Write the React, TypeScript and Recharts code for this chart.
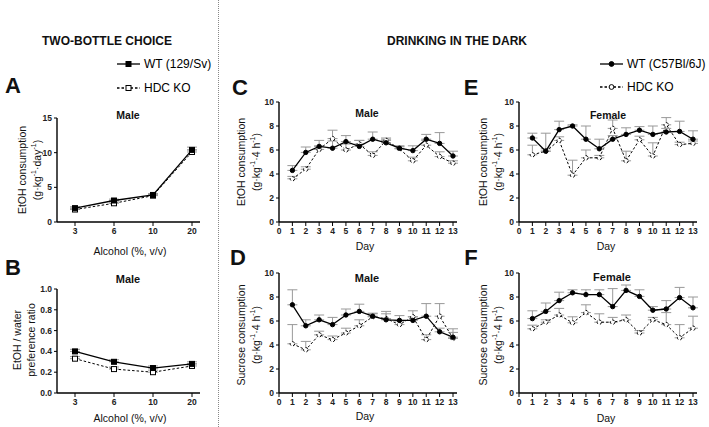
import React from "react";
import { LineChart, Line, XAxis, YAxis, ErrorBar } from "recharts";

// Two-bottle choice (alcohol %)
const alcohol = ["3", "6", "10", "20"];
const aWt = [2.0, 3.1, 3.9, 10.4];
const aKo = [1.8, 2.7, 3.8, 10.1];
const aWtErr = [0.2, 0.2, 0.2, 0.4];
const aKoErr = [0.2, 0.2, 0.2, 0.3];
const bWt = [0.4, 0.3, 0.24, 0.28];
const bKo = [0.33, 0.23, 0.2, 0.26];
const bWtErr = [0.02, 0.02, 0.02, 0.02];
const bKoErr = [0.02, 0.02, 0.02, 0.02];

// Drinking in the dark (days)
const days = [1, 2, 3, 4, 5, 6, 7, 8, 9, 10, 11, 12, 13];
const cWt = [4.3, 5.8, 6.3, 6.15, 6.7, 6.3, 6.9, 6.6, 6.15, 5.95, 6.9, 6.55, 5.5];
const cKo = [3.6, 4.4, 6.05, 6.95, 6.0, 6.5, 5.55, 6.8, 6.1, 5.1, 6.4, 5.45, 4.9];
const cWtErr = [0.4, 0.45, 0.5, 0.6, 0.5, 0.5, 0.6, 0.3, 0.2, 0.4, 0.4, 0.9, 0.4];
const cKoErr = [0.2, 0.2, 0.3, 0.7, 0.5, 0.3, 0.3, 0.2, 0.2, 0.3, 0.4, 0.4, 0.2];
const dWt = [7.35, 5.6, 6.1, 5.7, 6.5, 6.8, 6.4, 6.1, 6.05, 6.05, 6.4, 5.1, 4.65];
const dKo = [4.1, 3.6, 4.85, 4.45, 5.0, 5.6, 6.35, 6.2, 5.7, 6.35, 4.45, 6.4, 4.55];
const dWtErr = [1.25, 0.5, 0.4, 0.6, 0.5, 0.6, 0.2, 0.7, 0.4, 0.3, 1.05, 0.3, 0.7];
const dKoErr = [1.6, 0.7, 0.3, 0.3, 0.4, 0.5, 0.3, 0.4, 0.3, 0.5, 0.4, 1.05, 0.5];
const eWt = [7.0, 5.9, 7.7, 8.0, 6.9, 6.1, 6.9, 7.3, 7.65, 7.3, 7.5, 7.55, 6.9];
const eKo = [5.6, 5.9, 6.8, 3.9, 5.35, 5.35, 7.8, 5.1, 6.85, 5.5, 8.1, 6.45, 6.55];
const eWtErr = [0.4, 1.5, 0.7, 0.1, 1.1, 0.8, 0.3, 0.55, 0.3, 0.7, 0.3, 0.85, 0.7];
const eKoErr = [0.8, 0.2, 0.3, 1.25, 0.65, 0.2, 0.7, 0.8, 0.3, 1.1, 0.6, 0.2, 0.2];
const fWt = [6.2, 6.8, 7.7, 8.35, 8.2, 8.2, 7.2, 8.55, 8.05, 6.9, 7.0, 7.95, 7.1];
const fKo = [5.35, 5.9, 6.5, 5.85, 6.7, 5.9, 5.9, 6.1, 5.0, 6.1, 5.7, 4.6, 5.4];
const fWtErr = [0.65, 0.7, 0.7, 0.25, 0.4, 0.4, 1.5, 0.45, 0.55, 0.3, 0.7, 0.85, 0.9];
const fKoErr = [0.3, 0.2, 0.55, 0.5, 0.65, 0.7, 0.4, 0.4, 0.2, 0.2, 1.0, 1.1, 1.0];

const build = (xs: (string | number)[], wt: number[], ko: number[], we: number[], ke: number[]) =>
  xs.map((x, i) => ({ x, wt: wt[i], ko: ko[i], wtErr: [0, we[i]], koErr: [0, ke[i]] }));

const FONT = "'Liberation Sans', Arial, sans-serif";
const tickStyle = { fontSize: 8.5, fontWeight: 700, fill: "#222", fontFamily: FONT };
const axisLine = { stroke: "#000", strokeWidth: 1.4 };

const Square = (filled: boolean) => (p: any) => (
  <rect
    key={`sq-${p.index}`}
    x={p.cx - 2.5}
    y={p.cy - 2.5}
    width={5}
    height={5}
    fill={filled ? "#000" : "#fff"}
    stroke="#000"
    strokeWidth={1}
  />
);

type PanelProps = {
  data: any[];
  box: [number, number, number, number]; // plot left, top, right, bottom
  category?: boolean;
  yDomain: [number, number];
  yTicks: number[];
  yFmt?: (v: number) => string;
  squares?: boolean;
};

const Panel = ({ data, box, category, yDomain, yTicks, yFmt, squares }: PanelProps) => {
  const [l, t, r, b] = box;
  const yw = 30;
  const mt = 10;
  const xh = 20;
  const mr = 4;
  const width = yw + (r - l) + mr;
  const height = mt + (b - t) + xh;
  return (
    <div style={{ position: "absolute", left: l - yw, top: t - mt }}>
      <LineChart width={width} height={height} data={data} margin={{ top: mt, right: mr, bottom: 0, left: 0 }}>
        {category ? (
          <XAxis
            dataKey="x"
            type="category"
            padding={{ left: 18, right: 8 }}
            height={xh}
            tick={tickStyle}
            tickSize={4}
            axisLine={axisLine}
            tickLine={{ stroke: "#000" }}
          />
        ) : (
          <XAxis
            dataKey="x"
            type="number"
            domain={[0, 13]}
            ticks={[0, 1, 2, 3, 4, 5, 6, 7, 8, 9, 10, 11, 12, 13]}
            padding={{ left: 0, right: 4 }}
            height={xh}
            tick={tickStyle}
            tickSize={4}
            interval={0}
            axisLine={axisLine}
            tickLine={{ stroke: "#000" }}
          />
        )}
        <YAxis
          width={yw}
          domain={yDomain}
          ticks={yTicks}
          tickFormatter={yFmt}
          tick={tickStyle}
          tickSize={3}
          interval={0}
          axisLine={axisLine}
          tickLine={{ stroke: "#000" }}
        />
        <Line
          dataKey="ko"
          stroke="#000"
          strokeWidth={1}
          strokeDasharray="2.5 2"
          isAnimationActive={false}
          dot={squares ? Square(false) : { r: 2.2, fill: "#fff", stroke: "#000", strokeWidth: 1 }}
        >
          <ErrorBar dataKey="koErr" direction="y" stroke="#999" strokeWidth={1} width={5} />
        </Line>
        <Line
          dataKey="wt"
          stroke="#000"
          strokeWidth={1.3}
          isAnimationActive={false}
          dot={squares ? Square(true) : { r: 2.2, fill: "#000", stroke: "#000", strokeWidth: 1 }}
        >
          <ErrorBar dataKey="wtErr" direction="y" stroke="#999" strokeWidth={1} width={5} />
        </Line>
      </LineChart>
    </div>
  );
};

const Txt = ({ x, y, children, size = 10.5, bold = false, rotate = false }: any) => (
  <div
    style={{
      position: "absolute",
      left: x,
      top: y,
      transform: `translate(-50%, -50%)${rotate ? " rotate(-90deg)" : ""}`,
      whiteSpace: "nowrap",
      fontSize: size,
      fontWeight: bold ? 700 : 400,
      fontFamily: FONT,
      color: "#111",
      lineHeight: 1,
    }}
  >
    {children}
  </div>
);

const LegendRow = ({ x, y, label, dashed, square }: any) => (
  <div style={{ position: "absolute", left: x, top: y - 7, display: "flex", alignItems: "center", fontFamily: FONT, fontSize: 12 }}>
    <svg width={25} height={14}>
      <line x1={1} y1={7} x2={24} y2={7} stroke="#000" strokeWidth={1.3} strokeDasharray={dashed ? "2.5 2" : undefined} />
      {square ? (
        <rect x={10} y={4.5} width={5} height={5} fill={dashed ? "#fff" : "#000"} stroke="#000" />
      ) : (
        <circle cx={12.5} cy={7} r={2.4} fill={dashed ? "#fff" : "#000"} stroke="#000" />
      )}
    </svg>
    <span style={{ marginLeft: 3 }}>{label}</span>
  </div>
);

const sup = (s: string) => <sup style={{ fontSize: 7 }}>{s}</sup>;

export default function App() {
  const yTicks10 = [0, 2, 4, 6, 8, 10];
  return (
    <div style={{ position: "absolute", left: 0, top: 0, width: 709, height: 427, background: "#fff", overflow: "hidden" }}>
      <div style={{ position: "absolute", left: 218, top: 0, height: 427, borderLeft: "1px dotted #888" }} />
      <Txt x={107} y={41} size={12} bold>TWO-BOTTLE CHOICE</Txt>
      <Txt x={457} y={41} size={12} bold>DRINKING IN THE DARK</Txt>

      <LegendRow x={116} y={64} label="WT (129/Sv)" square />
      <LegendRow x={116} y={88} label="HDC KO" square dashed />
      <LegendRow x={599} y={64} label="WT (C57Bl/6J)" />
      <LegendRow x={599} y={87} label="HDC KO" dashed />

      <Txt x={13} y={86} size={22} bold>A</Txt>
      <Txt x={13} y={268} size={22} bold>B</Txt>
      <Txt x={240} y={88} size={22} bold>C</Txt>
      <Txt x={238} y={258} size={22} bold>D</Txt>
      <Txt x={471} y={88} size={22} bold>E</Txt>
      <Txt x={471} y={258} size={22} bold>F</Txt>

      <Txt x={128} y={115} bold>Male</Txt>
      <Txt x={128} y={279} size={11} bold>Male</Txt>
      <Txt x={367} y={113} bold>Male</Txt>
      <Txt x={367} y={278} size={11} bold>Male</Txt>
      <Txt x={608} y={115} bold>Female</Txt>
      <Txt x={612} y={277} size={11} bold>Female</Txt>

      <Txt x={22} y={170} rotate>EtOH consumption</Txt>
      <Txt x={36} y={170} rotate>(g·kg{sup("-1")}·day{sup("-1")})</Txt>
      <Txt x={17} y={340} rotate>EtOH / water</Txt>
      <Txt x={31} y={340} rotate>preference ratio</Txt>
      <Txt x={241} y={162} rotate>EtOH consumption</Txt>
      <Txt x={255} y={162} rotate>(g·kg{sup("-1")}·4 h{sup("-1")})</Txt>
      <Txt x={241} y={335} rotate>Sucrose consumption</Txt>
      <Txt x={255} y={335} rotate>(g·kg{sup("-1")}·4 h{sup("-1")})</Txt>
      <Txt x={483} y={162} rotate>EtOH consumption</Txt>
      <Txt x={497} y={162} rotate>(g·kg{sup("-1")}·4 h{sup("-1")})</Txt>
      <Txt x={483} y={335} rotate>Sucrose consumption</Txt>
      <Txt x={497} y={335} rotate>(g·kg{sup("-1")}·4 h{sup("-1")})</Txt>

      <Txt x={130} y={251}>Alcohol (%, v/v)</Txt>
      <Txt x={130} y={418}>Alcohol (%, v/v)</Txt>
      <Txt x={365} y={246}>Day</Txt>
      <Txt x={365} y={416}>Day</Txt>
      <Txt x={606} y={246}>Day</Txt>
      <Txt x={606} y={418}>Day</Txt>

      <Panel data={build(alcohol, aWt, aKo, aWtErr, aKoErr)} box={[57, 118, 200, 222]} category squares yDomain={[0, 15]} yTicks={[0, 5, 10, 15]} />
      <Panel
        data={build(alcohol, bWt, bKo, bWtErr, bKoErr)}
        box={[57, 289, 200, 393]}
        category
        squares
        yDomain={[0, 1]}
        yTicks={[0, 0.2, 0.4, 0.6, 0.8, 1.0]}
        yFmt={(v: number) => v.toFixed(1)}
      />
      <Panel data={build(days, cWt, cKo, cWtErr, cKoErr)} box={[279, 102, 457, 222]} yDomain={[0, 10]} yTicks={yTicks10} />
      <Panel data={build(days, dWt, dKo, dWtErr, dKoErr)} box={[279, 273, 457, 393]} yDomain={[0, 10]} yTicks={yTicks10} />
      <Panel data={build(days, eWt, eKo, eWtErr, eKoErr)} box={[519, 102, 697, 222]} yDomain={[0, 10]} yTicks={yTicks10} />
      <Panel data={build(days, fWt, fKo, fWtErr, fKoErr)} box={[519, 273, 697, 393]} yDomain={[0, 10]} yTicks={yTicks10} />
    </div>
  );
}
